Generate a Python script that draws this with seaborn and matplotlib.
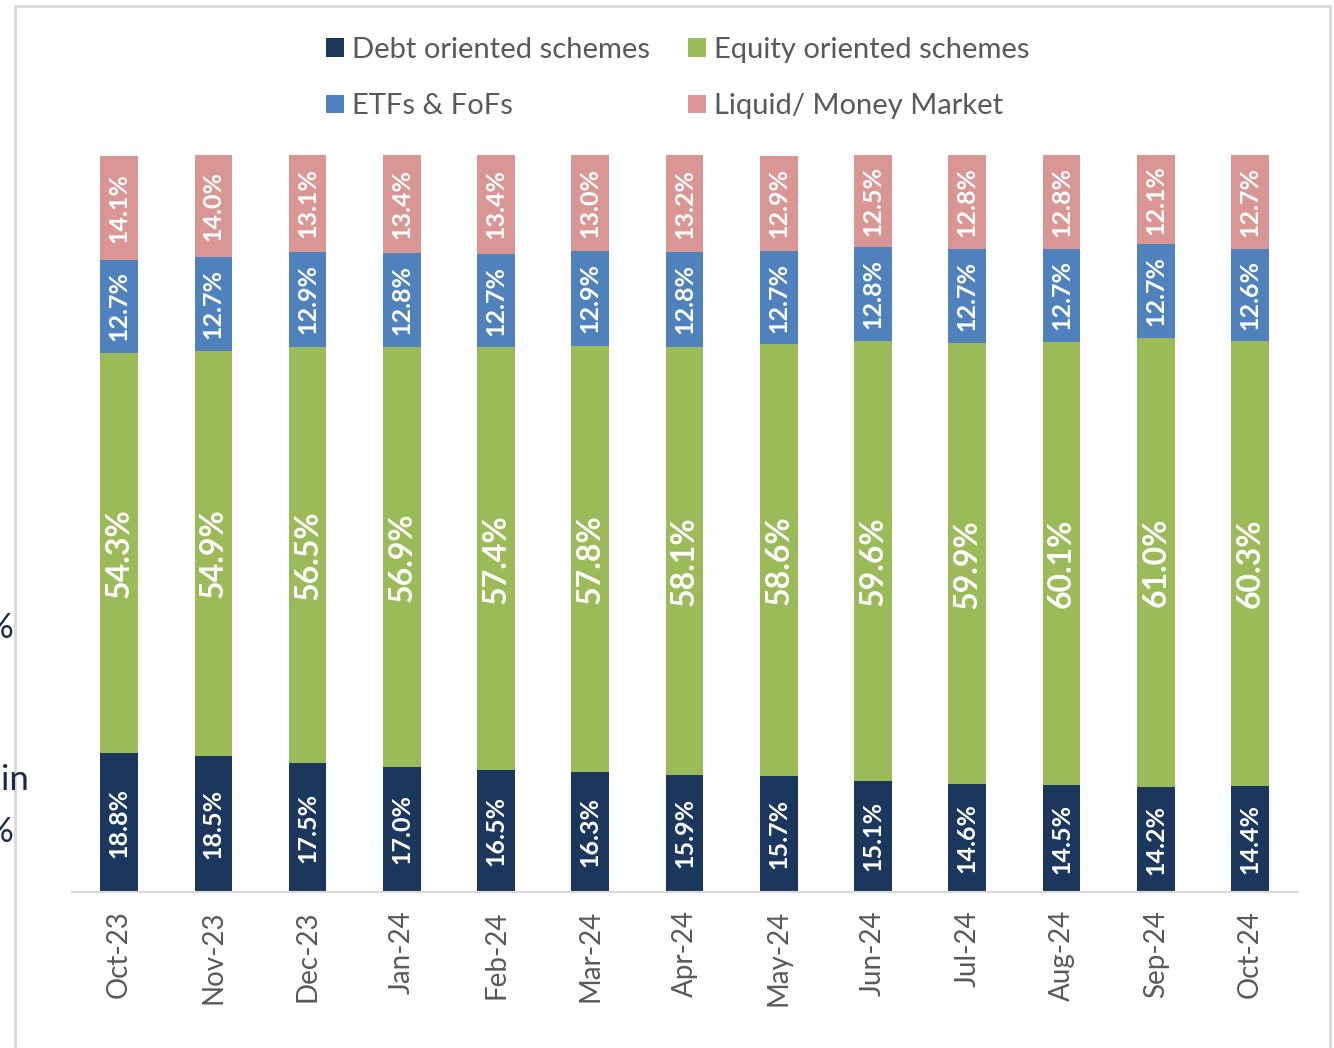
import numpy as np
import pandas as pd
import matplotlib
matplotlib.use('Agg')
import matplotlib.pyplot as plt
from matplotlib.patches import Patch
from matplotlib.lines import Line2D
import seaborn as sns


# ── data ───────────────────────────────────────────────────────────────────────

MONTHS = ['Oct-23', 'Nov-23', 'Dec-23', 'Jan-24', 'Feb-24', 'Mar-24', 'Apr-24',
          'May-24', 'Jun-24', 'Jul-24', 'Aug-24', 'Sep-24', 'Oct-24']

DEBT    = [18.8, 18.5, 17.5, 17.0, 16.5, 16.3, 15.9, 15.7, 15.1, 14.6, 14.5, 14.2, 14.4]
EQUITY  = [54.3, 54.9, 56.5, 56.9, 57.4, 57.8, 58.1, 58.6, 59.6, 59.9, 60.1, 61.0, 60.3]
ETF     = [12.7, 12.7, 12.9, 12.8, 12.7, 12.9, 12.8, 12.7, 12.8, 12.7, 12.7, 12.7, 12.6]
LIQUID  = [14.1, 14.0, 13.1, 13.4, 13.4, 13.0, 13.2, 12.9, 12.5, 12.8, 12.8, 12.1, 12.7]

SERIES_NAMES = ['Debt oriented schemes', 'Equity oriented schemes',
                'ETFs & FoFs', 'Liquid/ Money Market']
SERIES_DATA  = [DEBT, EQUITY, ETF, LIQUID]
COLORS       = ['#1b375e', '#9bbb59', '#4f81bd', '#da9694']

SIDE_TEXT    = ['%', 'in', '%']    # cut-off text left of the frame


# ── styling ────────────────────────────────────────────────────────────────────

sns.set_style('white')
plt.rcParams['font.family'] = ['Lato', 'DejaVu Sans']

fig = plt.figure(figsize=(13.34, 10.48), dpi=100)
ax = fig.add_axes([72 / 1334, 156 / 1048, 1225 / 1334, 737 / 1048])

df = pd.DataFrame({'month': MONTHS})
bottom = np.zeros(len(MONTHS))
for name, vals, color in zip(SERIES_NAMES, SERIES_DATA, COLORS):
    df[name] = vals
    sns.barplot(data=df, x='month', y=name, bottom=bottom, color=color,
                width=0.4, errorbar=None, saturation=1, ax=ax,
                edgecolor='none', linewidth=0)
    bottom = bottom + np.array(vals)

# data labels, one container per series (equity labels are larger)
for i, cont in enumerate(ax.containers):
    size = 23 if i == 1 else 18
    ax.bar_label(cont, labels=[f'{v:.1f}%' for v in SERIES_DATA[i]],
                 label_type='center', rotation=90, color='white',
                 fontsize=size, fontweight='bold')

ax.set_ylim(0, 100)
ax.set_xlim(-0.5, len(MONTHS) - 0.5)
ax.set_xlabel('')
ax.set_ylabel('')
ax.set_yticks([])
for side in ['left', 'top', 'right']:
    ax.spines[side].set_visible(False)
ax.spines['bottom'].set_color('#d9d9d9')
ax.spines['bottom'].set_linewidth(1.5)

ax.set_xticks(range(len(MONTHS)))
ax.set_xticklabels(MONTHS, rotation=90, fontsize=20, color='#595959')
ax.tick_params(axis='x', which='major', length=0, pad=13)
ax.set_xticks(np.arange(-0.5, len(MONTHS)), minor=True)
ax.tick_params(axis='x', which='minor', length=13, width=1.5, color='#d9d9d9')

# legend, filled row by row: matplotlib fills columns, so reorder
order = [0, 2, 1, 3]
handles = [Patch(facecolor=COLORS[i], edgecolor='none') for i in order]
labels = [SERIES_NAMES[i] for i in order]
fig.legend(handles, labels, ncol=2, loc='center',
           bbox_to_anchor=(678 / 1334, 1 - 78 / 1048), frameon=False,
           fontsize=21, labelcolor='#595959', handlelength=0.6,
           handleheight=0.6, handletextpad=0.3, columnspacing=1.3,
           labelspacing=1.05)

# outer frame
frame_kw = dict(color='#d9d9d9', linewidth=2, transform=fig.transFigure)
fig.add_artist(Line2D([15 / 1334, 1330 / 1334], [1 - 6 / 1048, 1 - 6 / 1048], **frame_kw))
fig.add_artist(Line2D([15 / 1334, 15 / 1334], [0, 1 - 6 / 1048], **frame_kw))
fig.add_artist(Line2D([1330 / 1334, 1330 / 1334], [0, 1 - 6 / 1048], **frame_kw))

# clipped text at the left edge
for txt, xr, yc in zip(SIDE_TEXT, [13, 29, 13], [628, 780, 832]):
    fig.text(xr / 1334, 1 - yc / 1048, txt, ha='right', va='center',
             fontsize=25, color='#1b2a45')

fig.savefig('out.png', dpi=100)
